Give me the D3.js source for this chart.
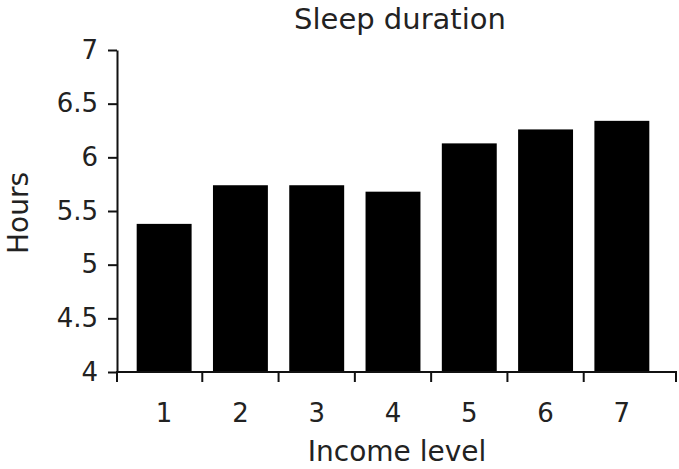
<!DOCTYPE html>
<html lang="en">
<head>
    <meta charset="UTF-8">
    <title>Sleep duration</title>
    <style>
      body {
          margin: 0;
          padding: 0;
          background-color: #fff;
      }
      svg text {
          font-family: 'DejaVu Sans', sans-serif;
          fill: #222;
      }
    </style>
</head>
<body>
    <div id="chart"></div>
    <script src="https://d3js.org/d3.v7.min.js"></script>
    <script>
        // data
        const incomeLevels = ["1", "2", "3", "4", "5", "6", "7"];
        const sleepHours = [5.38, 5.74, 5.74, 5.68, 6.13, 6.26, 6.34];
        const yTicks = [4, 4.5, 5, 5.5, 6, 6.5, 7];

        const width = 679;
        const height = 469;

        const svg = d3.select("#chart").append("svg")
            .attr("width", width)
            .attr("height", height);

        const axisLeftX = 117, axisRightX = 677;
        const baseY = 372, topY = 50;

        const x = d3.scaleBand()
            .domain(incomeLevels)
            .range([126, 660])
            .paddingInner(0.28)
            .paddingOuter(0.14);

        const y = d3.scaleLinear()
            .domain([4, 7])
            .range([baseY, topY]);

        // bars
        svg.append("g")
            .selectAll("rect")
            .data(sleepHours)
            .enter().append("rect")
            .attr("x", (d, i) => x(incomeLevels[i]))
            .attr("y", d => y(d))
            .attr("width", x.bandwidth())
            .attr("height", d => y(4) - y(d))
            .attr("fill", "#000");

        // y axis
        const yAxis = svg.append("g")
            .attr("transform", `translate(${axisLeftX},0)`)
            .call(d3.axisLeft(y)
                .tickValues(yTicks)
                .tickFormat(d3.format("~g"))
                .tickSize(9)
                .tickSizeOuter(0)
                .tickPadding(10));
        yAxis.select(".domain").attr("stroke", "#111").attr("stroke-width", 2);
        yAxis.selectAll(".tick line").attr("stroke", "#111").attr("stroke-width", 2);
        yAxis.selectAll(".tick text")
            .attr("font-size", 26)
            .attr("font-family", "'DejaVu Sans', sans-serif")
            .attr("fill", "#222");

        // x axis: line, ticks between the bars, labels under the bars
        const xAxis = svg.append("g");
        xAxis.append("line")
            .attr("x1", axisLeftX - 1)
            .attr("x2", axisRightX)
            .attr("y1", baseY)
            .attr("y2", baseY)
            .attr("stroke", "#111")
            .attr("stroke-width", 2);

        const gap = x.step() * x.paddingInner() / 2;
        const tickXs = [axisLeftX]
            .concat(incomeLevels.slice(1).map(d => x(d) - gap))
            .concat([axisRightX - 1]);
        xAxis.selectAll("line.tick")
            .data(tickXs)
            .enter().append("line")
            .attr("class", "tick")
            .attr("x1", d => d)
            .attr("x2", d => d)
            .attr("y1", baseY)
            .attr("y2", baseY + 10)
            .attr("stroke", "#111")
            .attr("stroke-width", 2);

        xAxis.selectAll("text")
            .data(incomeLevels)
            .enter().append("text")
            .attr("x", d => x(d) + x.bandwidth() / 2)
            .attr("y", 422)
            .attr("text-anchor", "middle")
            .attr("font-size", 26)
            .text(d => d);

        // titles
        svg.append("text")
            .attr("x", 400)
            .attr("y", 29)
            .attr("text-anchor", "middle")
            .attr("font-size", 29)
            .text("Sleep duration");

        svg.append("text")
            .attr("x", 397)
            .attr("y", 461)
            .attr("text-anchor", "middle")
            .attr("font-size", 28)
            .text("Income level");

        svg.append("text")
            .attr("transform", "translate(28,213) rotate(-90)")
            .attr("text-anchor", "middle")
            .attr("font-size", 28)
            .text("Hours");
    </script>
</body>
</html>
